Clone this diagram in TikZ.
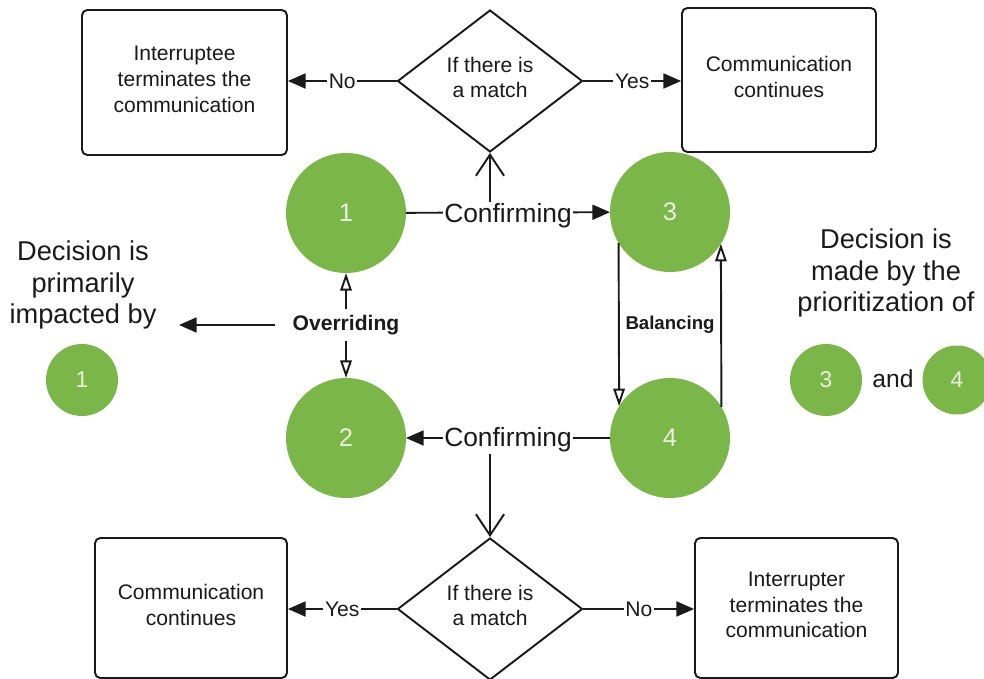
\documentclass[tikz,border=0pt]{standalone}
\usepackage{fontspec}
\setmainfont{Liberation Sans}
\usetikzlibrary{shapes.geometric,arrows.meta,calc}

\definecolor{leafgreen}{HTML}{7AB648}
\definecolor{numtext}{HTML}{E9F1E1}
\definecolor{ink}{HTML}{1A1A1A}

\tikzset{
  every node/.style={text=ink},
  wire/.style={line width=1.1pt, draw=ink},
  fillarr/.style={wire, -{Triangle[length=10pt,width=8.5pt]}},
  openarr/.style={wire, -{Triangle[open,length=10pt,width=6.5pt]}},
  chevarr/.style={wire, -{Straight Barb[length=12pt,width=16pt,line width=1.1pt]}},
  stepbox/.style={draw=ink, line width=1.1pt, rounded corners=3pt, align=center,
    text depth=3.6pt, font=\fontsize{12}{14.7}\selectfont},
  choice/.style={diamond, draw=ink, line width=1.1pt, inner sep=0pt, align=center,
    text depth=4pt, minimum width=3.7cm, minimum height=2.84cm,
    font=\fontsize{12}{14.2}\selectfont},
  bigdot/.style={circle, fill=leafgreen, minimum size=2.4cm, inner sep=0pt, outer sep=0pt,
    text=numtext, font=\fontsize{14.5}{16}\selectfont},
  smalldot/.style={circle, fill=leafgreen, minimum size=1.44cm, inner sep=0pt, outer sep=0pt,
    text=numtext, font=\fontsize{13}{15}\selectfont},
  onwire/.style={fill=white, inner sep=1pt, font=\fontsize{12}{14}\selectfont},
  confirm/.style={fill=white, inner sep=1pt, font=\fontsize{15}{17}\selectfont},
  note/.style={align=center, font=\fontsize{15.5}{18}\selectfont},
}

\begin{document}
\begin{tikzpicture}[x=0.02cm, y=-0.02cm]
  \clip (0,0) rectangle (984,679);
  \fill[white] (0,0) rectangle (984,679);

  % top decision and its outcomes
  \node[choice] (dtop) at (490,81) {If there is\\a match};
  \node[stepbox, minimum width=4.1cm, minimum height=2.9cm] (tl) at (184.5,82.5)
    {Interruptee\\terminates the\\communication};
  \node[stepbox, minimum width=3.88cm, minimum height=2.88cm] (tr) at (779,80)
    {Communication\\continues};

  % bottom decision and its outcomes
  \node[choice] (dbot) at (490,609) {If there is\\a match};
  \node[stepbox, minimum width=3.84cm, minimum height=2.8cm] (bl) at (191,608)
    {Communication\\continues};
  \node[stepbox, minimum width=4.06cm, minimum height=2.8cm] (br) at (796.5,608)
    {Interrupter\\terminates the\\communication};

  % the four states
  \node[bigdot] (c1) at (346,213) {1};
  \node[bigdot] (c3) at (670,212) {3};
  \node[bigdot] (c2) at (346,438) {2};
  \node[bigdot] (c4) at (670,438) {4};

  % side notes
  \node[note] (lnote) at (83,285) {Decision is\\primarily\\impacted by};
  \node[smalldot] (s1) at (82,380) {1};
  \node[note] (rnote) at (886,273) {Decision is\\made by the\\prioritization of};
  \node[smalldot] (s3) at (826,380) {3};
  \node[font=\fontsize{14}{16}\selectfont] (andw) at (893,379) {and};
  \node[smalldot, minimum size=1.38cm] (s4) at (957,380) {4};

  % yes / no branches
  \draw[fillarr] (dtop.west) -- node[onwire] {No} (dtop.west -| tl.east);
  \draw[fillarr] (dtop.east) -- node[onwire] {Yes} (dtop.east -| tr.west);
  \draw[fillarr] (dbot.west) -- node[onwire] {Yes} (dbot.west -| bl.east);
  \draw[fillarr] (dbot.east) -- node[onwire] {No} (dbot.east -| br.west);

  % confirming between 1 and 3, feeding the top decision
  \coordinate (upfork) at (490,205);
  \draw[chevarr] (upfork) -- (dtop.south);
  \draw[fillarr] (c1) -- node[confirm, yshift=-2pt] (conftop) {Confirming} (c3);

  % confirming between 4 and 2, feeding the bottom decision
  \coordinate (downfork) at (490,446);
  \draw[chevarr] (downfork) -- (dbot.north);
  \draw[fillarr] (c4) -- node[confirm, yshift=-1pt] (confbot) {Confirming} (c2);

  % overriding
  \node[font=\bfseries\fontsize{12}{14}\selectfont] (ovr) at (346,325) {Overriding};
  \draw[openarr] (ovr.north) -- (c1);
  \draw[openarr] (ovr.south) -- (c2);
  \coordinate (ovrfrom) at (275,325);
  \coordinate (ovrto) at (179,325);
  \draw[fillarr] (ovrfrom) -- (ovrto);

  % balancing
  \node[font=\bfseries\fontsize{10.6}{13}\selectfont] (bal) at (670,325) {Balancing};
  \draw[openarr] (c3.211.8) -- (c4.148.2);
  \draw[openarr] (c4.31.8) -- (c3.328.2);
\end{tikzpicture}
\end{document}
